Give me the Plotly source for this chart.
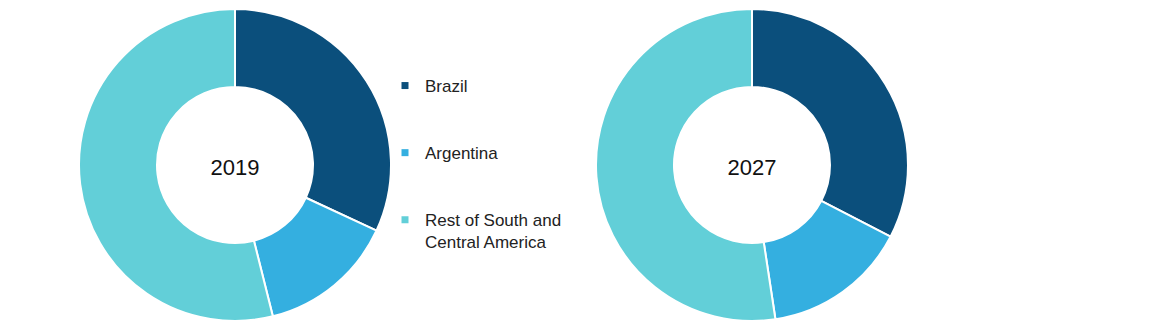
import plotly.graph_objects as go

categories = ["Brazil", "Argentina", "Rest of South and<br>Central America"]
values_2019 = [31.9, 14.2, 53.9]
values_2027 = [32.6, 15.0, 52.4]
years = ["2019", "2027"]
colors = ["#0B4F7C", "#34AFE0", "#62CFD8"]

W, H = 1169, 327
fig = go.Figure()

domains = [
    dict(x=[79 / W, 391 / W], y=[1 - 322 / H, 1 - 8 / H]),
    dict(x=[596 / W, 908 / W], y=[1 - 322 / H, 1 - 8 / H]),
]

for vals, yr, dom in zip([values_2019, values_2027], years, domains):
    fig.add_trace(go.Pie(
        labels=categories, values=vals, hole=0.5, sort=False,
        direction="clockwise", rotation=0, domain=dom,
        marker=dict(colors=colors, line=dict(color="white", width=2)),
        textinfo="none", hoverinfo="label+percent", showlegend=False,
        title=dict(text=yr, font=dict(size=22, color="#111111", family="Liberation Sans, Arial")),
    ))

for i, (cat, col) in enumerate(zip(categories, colors)):
    fig.add_trace(go.Scatter(
        x=[None], y=[None], mode="markers", name=cat,
        marker=dict(symbol="square", size=7, color=col),
        legendgroup=f"g{i}", showlegend=True,
    ))

fig.update_layout(
    width=W, height=H,
    margin=dict(l=0, r=0, t=0, b=0),
    paper_bgcolor="white", plot_bgcolor="white",
    xaxis=dict(visible=False), yaxis=dict(visible=False),
    legend=dict(
        x=385 / W, y=1 - 68 / H, xanchor="left", yanchor="top",
        font=dict(size=17, color="#222222", family="Liberation Sans, Arial"),
        tracegroupgap=42, itemwidth=30, valign="top",
        bgcolor="rgba(0,0,0,0)",
    ),
)

fig.write_html("out.html")
